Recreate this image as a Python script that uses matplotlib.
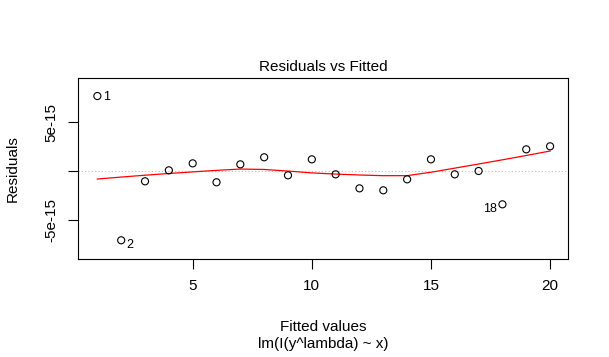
"""Residuals vs Fitted (R plot.lm, which=1) nachgebaut"""
import numpy as np
import matplotlib
matplotlib.use('Agg')
import matplotlib.pyplot as plt

plt.rcParams['font.family'] = ['Liberation Sans', 'DejaVu Sans']

fitted = [1, 2, 3, 4, 5, 6, 7, 8, 9, 10, 11, 12, 13, 14, 15, 16, 17, 18, 19, 20]
resid_e15 = [7.65, -7.07, -1.05, 0.07, 0.78, -1.15, 0.68, 1.40, -0.44, 1.19,
             -0.34, -1.77, -1.97, -0.85, 1.19, -0.34, 0.00, -3.40, 2.21, 2.52]
labelled = [1, 2, 18]          # Beobachtungsnummern mit Beschriftung

x = np.array(fitted, dtype=float)
y = np.array(resid_e15) * 1e-15


def lowess(x, y, f=2/3, it=3):
    # wie R lowess(): lokale lineare Regression, tricube + bisquare
    n = len(x)
    ns = max(min(int(round(f * n)), n), 2)
    rw = np.ones(n)
    fit = np.zeros(n)
    for k in range(it + 1):
        for i in range(n):
            d = np.abs(x - x[i])
            h = np.sort(d)[ns - 1]
            w = np.where(d <= 0.999 * h, (1 - (d / h) ** 3) ** 3, 0.0)
            w[d <= 0.001 * h] = 1.0
            w = w * rw
            sw = w.sum()
            xm = (w * x).sum() / sw
            ym = (w * y).sum() / sw
            sxx = (w * (x - xm) ** 2).sum()
            b = (w * (x - xm) * (y - ym)).sum() / sxx if sxx > 0 else 0.0
            fit[i] = ym + b * (x[i] - xm)
        if k == it:
            break
        res = y - fit
        cmad = 6 * np.median(np.abs(res))
        if cmad < 1e-7 * np.mean(np.abs(y)):
            break
        u = np.abs(res / cmad)
        rw = np.where(u < 1, (1 - u ** 2) ** 2, 0.0)
    return fit


smooth = lowess(x, y)

fig = plt.figure(figsize=(6.09, 3.57), dpi=100)
ax = fig.add_axes([0.128, 0.2745, 0.805, 0.507])

ax.axhline(0, color='#bebebe', lw=0.8, ls=(0, (1, 2)), zorder=1)
ax.plot(x, smooth, color='red', lw=0.9, zorder=2)
ax.scatter(x, y, s=26, facecolors='none', edgecolors='black', linewidths=0.8, zorder=3)

for obs in labelled:
    i = obs - 1
    dy = -1 if y[i] >= 0 else -3.5      # negative Residuen etwas tiefer, wie in R
    if x[i] < np.mean(x):
        ax.annotate(str(obs), (x[i], y[i]), xytext=(4, dy), textcoords='offset points',
                    ha='left', va='center', fontsize=9)
    else:
        ax.annotate(str(obs), (x[i], y[i]), xytext=(-4, dy), textcoords='offset points',
                    ha='right', va='center', fontsize=9)

ax.set_xlim(0.185, 20.76)
ax.set_ylim(-8.98e-15, 9.49e-15)
ax.set_xticks([5, 10, 15, 20])
ax.set_yticks([-5e-15, 0, 5e-15])
ax.set_yticklabels(['-5e-15', '', '5e-15'], rotation=90, va='center')
ax.tick_params(labelsize=11, length=7, width=0.8, direction='out')
ax.tick_params(axis='x', pad=7.5)
ax.tick_params(axis='y', pad=7)
for sp in ax.spines.values():
    sp.set_linewidth(0.8)

ax.set_title('Residuals vs Fitted', fontsize=11, pad=5)
fig.text(12.5 / 609, 1 - 169 / 357, 'Residuals', rotation=90, ha='center', va='center', fontsize=11)
fig.text(0.5 * (0.128 + 0.933), 1 - 327 / 357, 'Fitted values', ha='center', va='center', fontsize=11)
fig.text(0.5 * (0.128 + 0.933), 1 - 344 / 357, 'lm(I(y^lambda) ~ x)', ha='center', va='center', fontsize=11)

plt.savefig('out.png', dpi=100, facecolor='white')
plt.close()
